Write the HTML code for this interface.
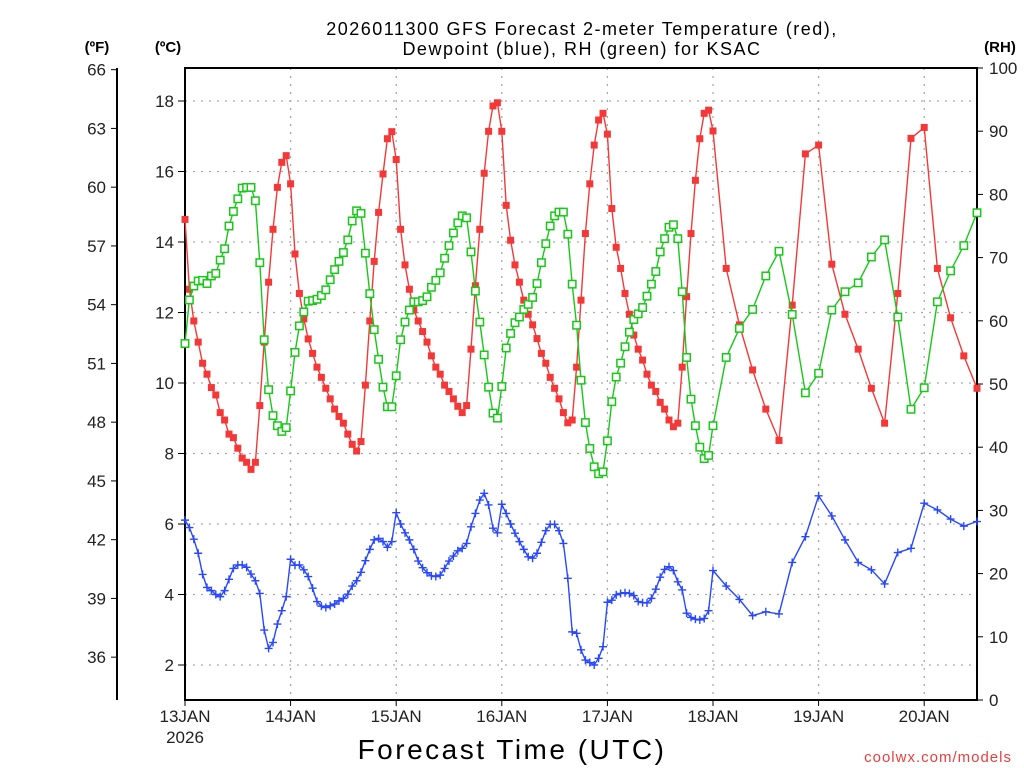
<!DOCTYPE html>
<html><head><meta charset="utf-8"><style>
html,body{margin:0;padding:0;background:#fff;}
svg{display:block;font-family:"Liberation Sans",sans-serif;}
</style></head><body>
<svg id="chart" width="1024" height="768" viewBox="0 0 1024 768" xmlns="http://www.w3.org/2000/svg">
<rect width="1024" height="768" fill="#fff"/>
<g id="grid"></g>
<g id="axes"></g>
<g id="series"></g>
<text x="582" y="35" font-size="18" text-anchor="middle" fill="#000" letter-spacing="1.5">2026011300 GFS Forecast 2-meter Temperature (red),</text>
<text x="582" y="55" font-size="18" text-anchor="middle" fill="#000" letter-spacing="1.5">Dewpoint (blue), RH (green) for KSAC</text>
<text x="97" y="52" font-size="15" font-weight="bold" text-anchor="middle">(ºF)</text>
<text x="168" y="52" font-size="15" font-weight="bold" text-anchor="middle">(ºC)</text>
<text x="1000" y="52" font-size="15" font-weight="bold" text-anchor="middle">(RH)</text>
<text x="512" y="759" font-size="28" text-anchor="middle" letter-spacing="2.5">Forecast Time (UTC)</text>
<text x="1012" y="762" font-size="15" text-anchor="end" fill="#e84040" letter-spacing="1">coolwx.com/models</text>
</svg>
<script>
const hourly = [];
for (let h = 0; h <= 120; h++) hourly.push(h);
for (let h = 123; h <= 180; h += 3) hourly.push(h);
const hours = hourly;
const tempC = [14.64,12.66,11.76,11.16,10.56,10.25,9.87,9.66,9.16,8.95,
8.55,8.45,8.15,7.87,7.75,7.55,7.75,9.36,11.16,12.86,
14.36,15.55,16.26,16.45,15.65,13.66,12.54,11.82,11.25,10.84,
10.45,10.16,9.85,9.55,9.26,9.05,8.86,8.55,8.26,8.07,
8.34,9.94,11.76,13.45,14.84,15.93,16.93,17.13,16.34,14.36,
13.35,12.66,12.07,11.76,11.46,11.16,10.77,10.45,10.25,9.94,
9.76,9.55,9.34,9.16,9.36,10.96,12.76,14.36,15.95,17.14,
17.86,17.95,17.14,15.04,14.05,13.35,12.86,12.35,11.95,11.65,
11.26,10.84,10.56,10.16,9.85,9.55,9.16,8.87,8.95,10.45,
12.35,14.24,15.65,16.75,17.46,17.65,17.06,14.95,13.85,13.25,
12.54,11.95,11.36,10.96,10.65,10.25,9.94,9.76,9.45,9.26,
8.95,8.76,8.86,10.45,12.45,14.24,15.75,16.93,17.65,17.74,
17.15,
13.25,11.65,10.37,9.26,8.37,12.21,16.5,16.75,13.37,11.95,10.96,9.85,8.86,12.54,16.94,17.25,13.25,11.85,10.77,9.85];
const rhPct = [56.4,63.3,65.5,66.3,66.4,65.9,67.1,67.5,69.6,71.4,
75.0,77.3,79.3,81.0,81.1,81.1,79.0,69.2,57.0,49.1,
45.0,43.4,42.5,43.1,48.9,55.0,59.2,61.4,63.1,63.2,
63.4,64.0,64.9,66.5,68.1,69.4,70.8,72.8,75.8,77.4,
77.0,70.7,64.3,58.6,53.9,49.5,46.4,46.4,51.3,57.0,
59.8,61.7,63.0,63.0,63.2,63.8,65.3,66.4,67.6,69.9,
71.9,73.9,75.5,76.6,76.3,70.9,64.7,59.8,54.6,49.5,
45.4,44.6,49.6,55.7,58.0,59.7,60.6,61.8,62.6,63.7,
65.9,69.2,72.2,75.0,76.6,77.2,77.2,73.7,65.8,59.3,
50.6,43.9,39.8,36.9,35.8,36.1,41.0,47.2,51.1,53.3,
55.9,58.2,60.2,61.1,62.1,63.9,65.8,67.8,70.9,73.0,
74.8,75.2,73.0,64.6,54.2,47.6,43.4,40.0,38.2,38.7,
43.4,
54.2,58.8,61.8,67.1,71.0,61.0,48.6,51.7,61.7,64.6,66.0,70.1,72.8,60.6,46.0,49.4,63.0,67.9,71.9,77.1];
const dewC = [6.11,5.90,5.57,5.17,4.57,4.20,4.11,4.00,3.94,4.11,
4.43,4.74,4.84,4.84,4.77,4.58,4.39,4.03,2.99,2.47,
2.64,3.16,3.54,3.94,5.00,4.83,4.84,4.70,4.51,4.18,
3.80,3.67,3.63,3.68,3.73,3.82,3.89,4.01,4.24,4.39,
4.63,4.96,5.28,5.55,5.59,5.50,5.34,5.50,6.32,6.00,
5.75,5.55,5.28,4.95,4.76,4.62,4.53,4.51,4.55,4.74,
4.95,5.09,5.24,5.31,5.45,5.92,6.30,6.68,6.87,6.54,
5.88,5.75,6.56,6.30,6.00,5.74,5.50,5.28,5.07,5.03,
5.17,5.48,5.81,5.99,5.99,5.81,5.45,4.46,2.94,2.90,
2.43,2.14,2.07,2.00,2.19,2.52,3.78,3.84,3.99,4.03,
4.05,4.03,3.97,3.80,3.77,3.76,3.89,4.15,4.49,4.71,
4.79,4.68,4.36,4.13,3.47,3.35,3.30,3.28,3.32,3.54,
4.68,
4.24,3.86,3.40,3.51,3.45,4.91,5.64,6.80,6.23,5.55,4.91,4.70,4.30,5.19,5.31,6.59,6.40,6.14,5.94,6.07];
const dayLabels = ["13JAN","14JAN","15JAN","16JAN","17JAN","18JAN","19JAN","20JAN"];
const celsiusTicks = [2,4,6,8,10,12,14,16,18];
const fahrenheitTicks = [36,39,42,45,48,51,54,57,60,63,66];
const rhTicks = [0,10,20,30,40,50,60,70,80,90,100];

const NS = "http://www.w3.org/2000/svg";
const L = 185, R = 977, T = 68, B = 700;
const xOf = h => L + h * (R - L) / 180;
const yC = c => 735.5 - c * 35.25;
const yF = f => yC((f - 32) / 1.8);
const yRH = r => B - r * (B - T) / 100;
function mk(tag, attrs, parent) {
  const e = document.createElementNS(NS, tag);
  for (const k in attrs) e.setAttribute(k, attrs[k]);
  parent.appendChild(e);
  return e;
}
const grid = document.getElementById('grid');
const axes = document.getElementById('axes');
const series = document.getElementById('series');

celsiusTicks.forEach(c => {
  const g = mk('line', {x1:L, x2:R, y1:yC(c), y2:yC(c), stroke:'#aaa', 'stroke-width':1.3, 'stroke-dasharray':'2,6'}, grid);
  
  
});
dayLabels.forEach((d, i) => {
  if (i === 0) return;
  const g = mk('line', {x1:xOf(i*24), x2:xOf(i*24), y1:T, y2:B, stroke:'#aaa', 'stroke-width':1.3, 'stroke-dasharray':'2,6'}, grid);
  
  
});

const fr = mk('rect', {x:L, y:T, width:R-L, height:B-T, fill:'none', stroke:'#000', 'stroke-width':2}, axes);


const fl = mk('line', {x1:117, x2:117, y1:T, y2:B, stroke:'#000', 'stroke-width':2}, axes);



celsiusTicks.forEach(c => {
  const y = yC(c);
  mk('line', {x1:178, x2:L, y1:y, y2:y, stroke:'#000', 'stroke-width':1}, axes);
  const t = mk('text', {x:174, y:y+6, 'font-size':17, 'text-anchor':'end', fill:'#222'}, axes);
  t.textContent = c;
  
  
});
fahrenheitTicks.forEach(f => {
  const y = yF(f);
  mk('line', {x1:111, x2:117, y1:y, y2:y, stroke:'#000', 'stroke-width':1}, axes);
  const t = mk('text', {x:106, y:y+6, 'font-size':17, 'text-anchor':'end', fill:'#222'}, axes);
  t.textContent = f;
  
  
});
rhTicks.forEach(r => {
  const y = yRH(r);
  mk('line', {x1:R, x2:R+6, y1:y, y2:y, stroke:'#000', 'stroke-width':1}, axes);
  const t = mk('text', {x:989, y:y+6, 'font-size':17, 'text-anchor':'start', fill:'#222'}, axes);
  t.textContent = r;
  
  
});
dayLabels.forEach((d, i) => {
  const x = xOf(i*24);
  mk('line', {x1:x, x2:x, y1:B, y2:B+6, stroke:'#000', 'stroke-width':1}, axes);
  const t = mk('text', {x:x, y:722, 'font-size':17, 'text-anchor':'middle', fill:'#222'}, axes);
  t.textContent = d;
  
  
});
const yr = mk('text', {x:xOf(0), y:743, 'font-size':17, 'text-anchor':'middle', fill:'#222'}, axes);
yr.textContent = '2026';



function drawSeries(vals, yfn, color, marker, name) {
  const g = mk('g', {}, series);
  
  
  const pts = vals.map((v, i) => xOf(hours[i]).toFixed(1) + ',' + yfn(v).toFixed(1)).join(' ');
  mk('polyline', {points:pts, fill:'none', stroke:color, 'stroke-width':1.4}, g);
  vals.forEach((v, i) => {
    const x = xOf(hours[i]), y = yfn(v);
    let m;
    if (marker === 'fill') m = mk('rect', {x:x-3.5, y:y-3.5, width:7, height:7, fill:color}, g);
    else if (marker === 'open') m = mk('rect', {x:x-3.7, y:y-3.7, width:7.4, height:7.4, fill:'#fff', stroke:color, 'stroke-width':1.5}, g);
    else m = mk('path', {d:`M${x-4},${y}H${x+4}M${x},${y-4}V${y+4}`, stroke:color, 'stroke-width':1.4}, g);
    
    
  });
}
drawSeries(tempC, yC, '#f43838', 'fill', 'temperature-series');
drawSeries(rhPct, yRH, '#18c818', 'open', 'rh-series');
drawSeries(dewC, yC, '#2848ff', 'plus', 'dewpoint-series');
</script>
</body></html>
